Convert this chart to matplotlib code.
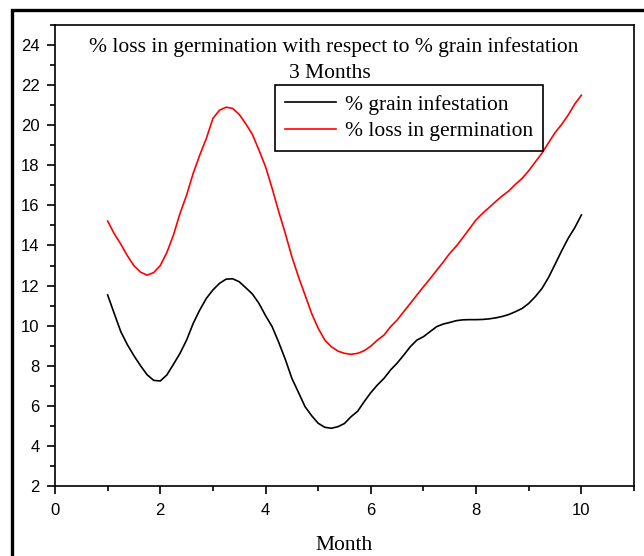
import matplotlib
matplotlib.use("Agg")
import numpy as np
import matplotlib.pyplot as plt
from matplotlib.patches import Rectangle
from matplotlib.ticker import MultipleLocator

# values every 1/8 month, from month 1 to month 10
month = np.arange(1, 10.001, 0.125)

grain_infestation = [11.53, 10.61, 9.70, 9.05, 8.50, 8.00, 7.55, 7.27, 7.24,
                     7.54, 8.07, 8.62, 9.28, 10.11, 10.78, 11.36, 11.78,
                     12.11, 12.32, 12.34, 12.19, 11.89, 11.58, 11.11, 10.50,
                     9.95, 9.17, 8.32, 7.37, 6.67, 5.96, 5.51, 5.13,
                     4.93, 4.88, 4.96, 5.12, 5.46, 5.73, 6.21, 6.66,
                     7.04, 7.37, 7.79, 8.13, 8.53, 8.95, 9.28, 9.45,
                     9.70, 9.95, 10.08, 10.16, 10.25, 10.29, 10.30, 10.30,
                     10.31, 10.34, 10.39, 10.46, 10.56, 10.70, 10.86, 11.11,
                     11.45, 11.85, 12.40, 13.06, 13.73, 14.36, 14.89, 15.52]

loss_germination = [15.22, 14.59, 14.07, 13.49, 12.99, 12.67, 12.52, 12.65, 13.00,
                    13.65, 14.52, 15.60, 16.51, 17.60, 18.51, 19.34, 20.34,
                    20.75, 20.90, 20.84, 20.54, 20.07, 19.54, 18.76, 17.93,
                    16.85, 15.69, 14.60, 13.44, 12.44, 11.53, 10.61, 9.87,
                    9.28, 8.95, 8.73, 8.62, 8.57, 8.62, 8.75, 8.98,
                    9.28, 9.53, 9.95, 10.28, 10.70, 11.11, 11.53, 11.94,
                    12.34, 12.76, 13.17, 13.61, 13.97, 14.40, 14.84, 15.28,
                    15.61, 15.90, 16.20, 16.48, 16.73, 17.06, 17.35, 17.73,
                    18.17, 18.60, 19.12, 19.63, 20.04, 20.51, 21.06, 21.50]

plt.rcParams['font.family'] = ['Liberation Sans', 'DejaVu Sans']
serif = ['Liberation Serif', 'DejaVu Serif']

fig = plt.figure(figsize=(6.44, 5.56), dpi=100)
ax = fig.add_axes([0.0854, 0.1259, 0.8991, 0.8291])

ax.plot(month, grain_infestation, color='black', lw=1.2, label='% grain infestation')
ax.plot(month, loss_germination, color='red', lw=1.2, label='% loss in germination')

ax.set_xlim(0, 11)
ax.set_ylim(2, 25)
ax.xaxis.set_major_locator(MultipleLocator(2))
ax.xaxis.set_minor_locator(MultipleLocator(1))
ax.yaxis.set_major_locator(MultipleLocator(2))
ax.yaxis.set_minor_locator(MultipleLocator(1))
ax.tick_params(which='major', direction='out', length=6, width=1.2, labelsize=12)
ax.tick_params(which='minor', direction='out', length=3.5, width=1.2)
ax.tick_params(axis='y', pad=5)
ax.tick_params(axis='x', pad=6)
for s in ax.spines.values():
    s.set_linewidth(1.2)

ax.set_xlabel('Month', family=serif, fontsize=15.5, labelpad=13)

ax.text(0.481, 0.953, '% loss in germination with respect to % grain infestation',
        transform=ax.transAxes, ha='center', va='center', family=serif, fontsize=15.5)
ax.text(0.475, 0.894, '3 Months', transform=ax.transAxes, ha='center', va='center',
        family=serif, fontsize=15.5)

leg = ax.legend(loc='upper left', bbox_to_anchor=(0.38, 0.870), prop={'family': serif, 'size': 15.5},
                frameon=True, fancybox=False, edgecolor='black', framealpha=1,
                handlelength=2.4, handletextpad=0.4, borderpad=0.45, labelspacing=0.3,
                borderaxespad=0)
leg.get_frame().set_linewidth(1.2)

# thick outer frame, running off the right and bottom edges
fig.patches.append(Rectangle((12 / 644, -0.05), 1.1, 1 - 10 / 556 + 0.05, transform=fig.transFigure,
                             fill=False, edgecolor='black', lw=2.4))

fig.savefig('out.png', dpi=100)
